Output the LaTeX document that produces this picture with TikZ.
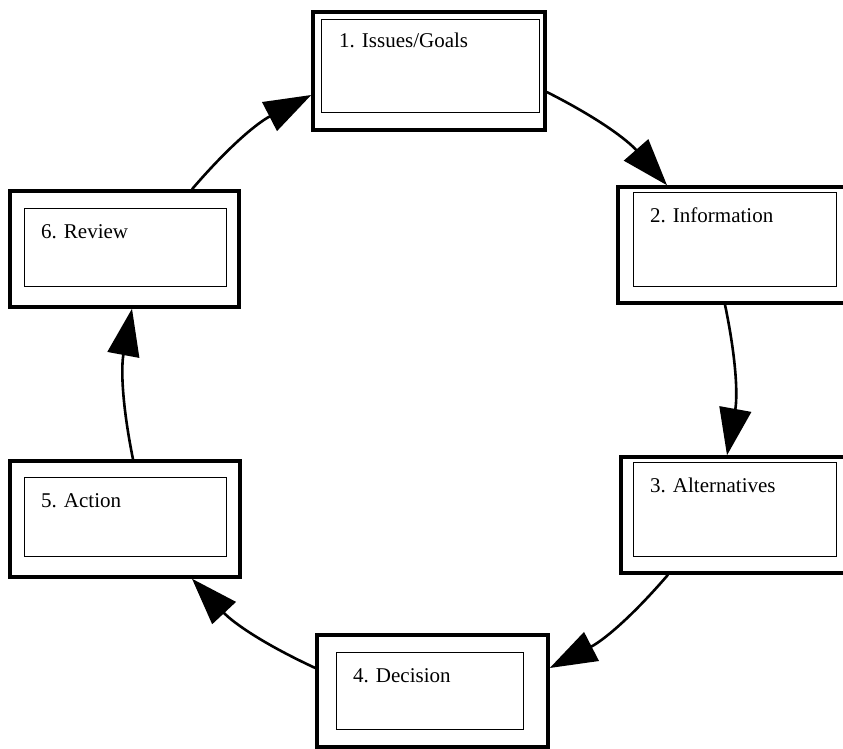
\documentclass[tikz,border=0pt]{standalone}
\usepackage{fontspec}
\setmainfont{Liberation Serif}
\usetikzlibrary{arrows.meta}
\begin{document}
\begin{tikzpicture}[x=1pt,y=1pt,
  outerbox/.style={draw, line width=3.5pt, inner sep=0pt, minimum width=#1},
  innerbox/.style={draw, line width=1pt, inner sep=0pt},
  label/.style={anchor=base west, inner sep=0pt, font=\fontsize{21}{25}\selectfont},
  flow/.style={line width=2.6pt, -{Triangle[length=47pt,width=32pt]}, bend left=11}]
\useasboundingbox[fill=white] (0,0) rectangle (843,749);
% boxes (outer)
\node[outerbox=232pt, minimum height=118pt] (b1) at (429,678) {};
\node[outerbox=230pt, minimum height=116pt] (b2) at (733,504) {};
\node[outerbox=227pt, minimum height=116pt] (b3) at (734.5,234) {};
\node[outerbox=231pt, minimum height=112pt] (b4) at (432.5,58) {};
\node[outerbox=230pt, minimum height=116pt] (b5) at (125,230) {};
\node[outerbox=229pt, minimum height=116pt] (b6) at (124.5,500) {};
% inner frames
\node[innerbox, minimum width=218pt, minimum height=93pt] (i1) at (430,682.5) {};
\node[innerbox, minimum width=203pt, minimum height=94pt] (i2) at (734.5,509) {};
\node[innerbox, minimum width=203pt, minimum height=94pt] (i3) at (734.5,239) {};
\node[innerbox, minimum width=187pt, minimum height=77pt] (i4) at (429.5,57.5) {};
\node[innerbox, minimum width=202pt, minimum height=79pt] (i5) at (125,231.5) {};
\node[innerbox, minimum width=202pt, minimum height=78pt] (i6) at (125,501) {};
% labels
\node[label] (t1) at (339,701) {1. Issues/Goals};
\node[label] (t2) at (650,526) {2. Information};
\node[label] (t3) at (650,256) {3. Alternatives};
\node[label] (t4) at (353,66) {4. Decision};
\node[label] (t5) at (41,241) {5. Action};
\node[label] (t6) at (41,510) {6. Review};
% connectors
\draw[flow] (192,0 |- b6.north) to (b1.west |- 0,654);
\draw[flow] (b1.east |- 0,657) to (667,0 |- b2.north);
\draw[flow] (725,0 |- b2.south) to (727,0 |- b3.north);
\draw[flow] (668,0 |- b3.south) to (b4.east |- 0,81);
\draw[flow] (b4.west |- 0,81) to (192,0 |- b5.south);
\draw[flow] (133,0 |- b5.north) to (132,0 |- b6.south);
\end{tikzpicture}
\end{document}
